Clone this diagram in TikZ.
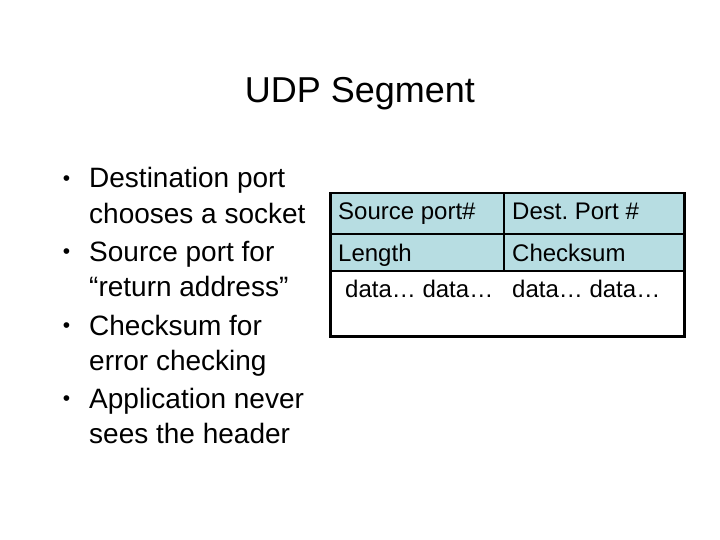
\documentclass[tikz,border=0pt]{standalone}
\usepackage{fontspec}
\setmainfont{Liberation Sans}
\frenchspacing
\definecolor{udpblue}{RGB}{183,221,226}
\tikzset{
  point/.style={anchor=base west,font=\fontsize{28}{33}\selectfont},
  field/.style={draw,line width=1.5pt,fill=udpblue,anchor=north west},
  fieldtext/.style={anchor=base west,font=\fontsize{24}{29}\selectfont}
}

\begin{document}
\begin{tikzpicture}[x=1pt,y=-1pt,inner sep=0pt]
  \useasboundingbox (0,0) rectangle (720,540);
  \node[anchor=base,font=\fontsize{36}{43}\selectfont] (title) at (360,103) {UDP Segment};

  % bullets, two lines each
  \foreach \y/\a/\b [count=\i] in {188/Destination port/chooses a socket,
                                   261/Source port for/“return address”,
                                   335/Checksum for/error checking,
                                   408/Application never/sees the header}
  {
    \node[point] (p\i) at (89,\y) {\a};
    \node[point] (q\i) at (89,\y+35) {\b};
    \node[anchor=base,font=\fontsize{21}{25}\selectfont] (dot\i) at (66.5,\y-2.5) {•};
  }

  % header fields
  \node[field,minimum width=173pt,minimum height=40pt] (src) at (330,193) {};
  \node[field,minimum width=180pt,minimum height=40pt] (dst) at (503,193) {};
  \node[field,minimum width=173pt,minimum height=37pt] (len) at (330,233) {};
  \node[field,minimum width=180pt,minimum height=37pt] (chk) at (503,233) {};
  \node[draw,line width=1.5pt,anchor=north west,minimum width=353pt,minimum height=65pt] (data) at (330,270) {};
  \draw[line width=2.5pt] (src.north west) rectangle (data.south east);

  \node[fieldtext] (srct) at (338,219) {Source port\#};
  \node[fieldtext] (dstt) at (512,219) {Dest. Port \#};
  \node[fieldtext] (lent) at (338,261) {Length};
  \node[fieldtext] (chkt) at (512,261) {Checksum};
  \node[fieldtext] (data1) at (345,297) {data… data…};
  \node[fieldtext] (data2) at (512,297) {data… data…};
\end{tikzpicture}
\end{document}
